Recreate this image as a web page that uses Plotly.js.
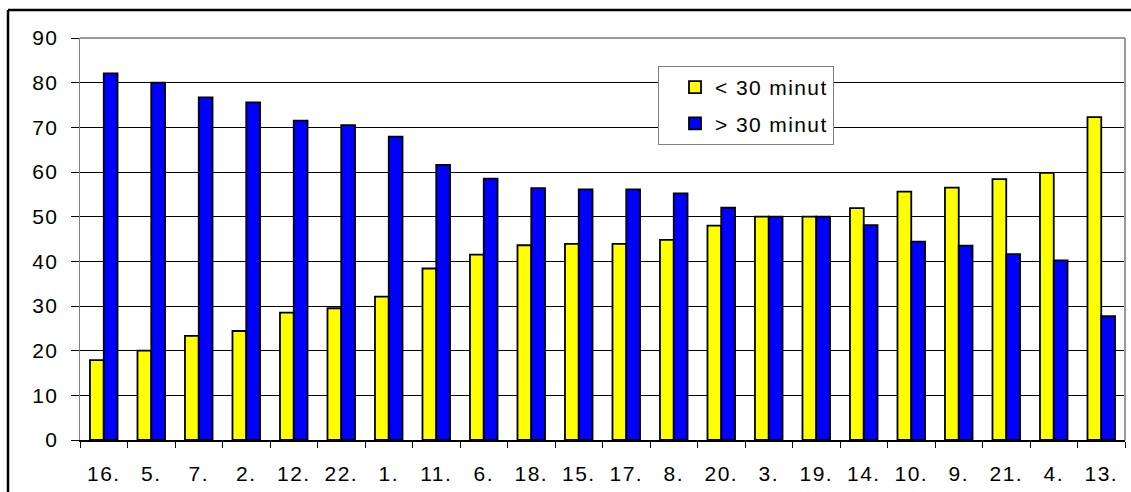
<!DOCTYPE html>
<html>
<head>
<meta charset="utf-8">
<script src="https://cdn.plot.ly/plotly-3.0.1.min.js"></script>
<style>
html,body{margin:0;padding:0;background:#fff;}
#chart{width:1131px;height:492px;}
text{letter-spacing:1.4px;}
</style>
</head>
<body>
<div id="chart"></div>
<script>
const categories = ["16.","5.","7.","2.","12.","22.","1.","11.","6.","18.","15.","17.","8.","20.","3.","19.","14.","10.","9.","21.","4.","13."];
const under30 = [17.9,20.0,23.3,24.4,28.5,29.5,32.1,38.4,41.5,43.6,43.9,43.9,44.8,48.0,50.0,50.0,51.9,55.6,56.5,58.4,59.8,72.3];
const over30  = [82.1,80.0,76.7,75.6,71.5,70.5,67.9,61.6,58.5,56.4,56.1,56.1,55.2,52.0,50.0,50.0,48.1,44.4,43.5,41.6,40.2,27.7];
const seriesNames = ["< 30 minut", "> 30 minut"];

const W = 1131, H = 492;
const mL = 80, mR = 6, mT = 38, mB = 52;
const pw = W - mL - mR, ph = H - mT - mB;
const fontFam = "Liberation Sans, Arial, sans-serif";

const traces = [
  {type:"bar", name:seriesNames[0], x:categories, y:under30, legendgroup:"a",
   marker:{color:"#FFFF00", line:{color:"#000", width:1.8}}},
  {type:"bar", name:seriesNames[1], x:categories, y:over30, legendgroup:"b",
   marker:{color:"#0000FF", line:{color:"#000", width:1.8}}}
];

const layout = {
  width:W, height:H,
  margin:{l:mL, r:mR, t:mT, b:mB, pad:0},
  paper_bgcolor:"#fff", plot_bgcolor:"#fff",
  font:{family:fontFam, size:21, color:"#000"},
  barmode:"group", bargap:0.42, bargroupgap:0,
  showlegend:true,
  legend:{
    x:(658-mL)/pw, y:1-(66-mT)/ph, xanchor:"left", yanchor:"top",
    bgcolor:"#fff", bordercolor:"#808080", borderwidth:1,
    font:{family:fontFam, size:21, color:"#000"},
    traceorder:"grouped", tracegroupgap:6, indentation:16
  },
  xaxis:{
    type:"category", showgrid:false, zeroline:false,
    showline:true, linecolor:"#000", linewidth:1.5,
    ticks:"outside", tickson:"boundaries", ticklen:6, tickcolor:"#000", tickwidth:1,
    ticklabelstandoff:14,
    tickfont:{family:fontFam, size:21, color:"#000"}
  },
  yaxis:{
    range:[0,90], dtick:10, tick0:0,
    showgrid:true, gridcolor:"#000", gridwidth:1,
    zeroline:false, showline:true, linecolor:"#808080", linewidth:1.5,
    ticks:"outside", ticklen:8, tickcolor:"#000", tickwidth:1,
    ticklabelstandoff:8,
    tickfont:{family:fontFam, size:21, color:"#000"}
  },
  shapes:[
    {type:"line", xref:"paper", yref:"paper", x0:0, x1:1, y0:1, y1:1, line:{color:"#999", width:2}, layer:"above"},
    {type:"line", xref:"paper", yref:"paper", x0:1, x1:1, y0:0, y1:1, line:{color:"#999", width:2}, layer:"above"},
    {type:"line", xref:"paper", yref:"paper", x0:(8-mL)/pw, x1:(W+10-mL)/pw, y0:1+(mT-10)/ph, y1:1+(mT-10)/ph, line:{color:"#000", width:2.5}},
    {type:"line", xref:"paper", yref:"paper", x0:(8-mL)/pw, x1:(8-mL)/pw, y0:1+(mT-10)/ph, y1:-(mB+10)/ph, line:{color:"#000", width:2.5}}
  ]
};

Plotly.newPlot("chart", traces, layout, {displayModeBar:false, staticPlot:true});
</script>
</body>
</html>
